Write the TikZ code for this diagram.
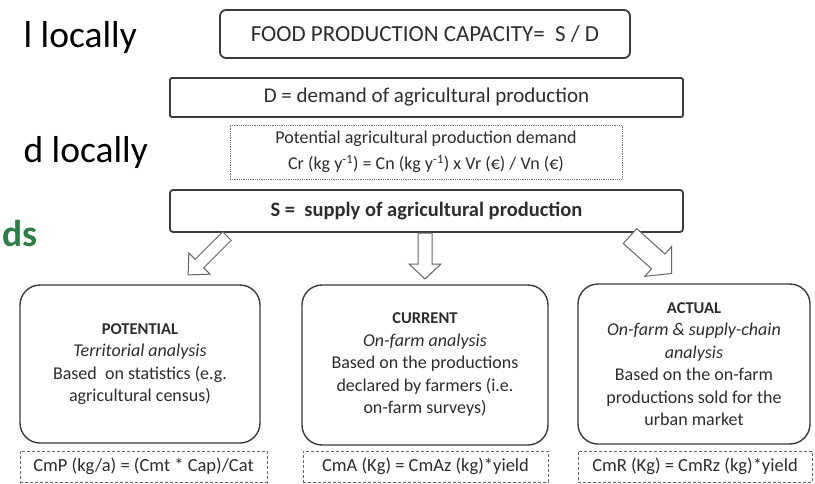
\documentclass[tikz,border=0pt]{standalone}
\usepackage{fontspec}
\setmainfont{Carlito}
\usetikzlibrary{positioning}

\definecolor{slidegreen}{RGB}{46,125,70}
\definecolor{linegray}{RGB}{60,60,60}
\definecolor{textgray}{RGB}{45,45,45}

\tikzset{
  topbox/.style={draw=linegray, line width=1.8pt, rounded corners=4pt, text=textgray, inner sep=0pt},
  notebox/.style={draw=black!55, densely dotted, line width=0.8pt, text=textgray, align=center, inner sep=0pt},
  kindbox/.style={draw=linegray, line width=1.4pt, rounded corners=20pt, text=textgray, align=center, inner sep=0pt,
    font=\fontsize{18}{22.5}\selectfont},
  formulabox/.style={draw=black!60, dash pattern=on 3pt off 2pt, line width=0.8pt, text=textgray, inner sep=0pt,
    font=\fontsize{18.5}{20}\selectfont},
  hollow/.style={draw=black!60, line width=1pt, fill=white, line join=miter},
  sidetext/.style={anchor=base east, inner sep=0pt, font=\fontsize{37.5}{42}\selectfont}
}
\newcommand{\kindtitle}[1]{{\bfseries\fontsize{16.5}{22.5}\selectfont #1}}
% block arrow: tail, angle, length, half shaft, half head, head length
\newcommand{\hollowarrow}[6]{%
  \begin{scope}[shift={#1}, rotate=#2]
    \draw[hollow] (0,-#4) -- ({#3-#6},-#4) -- ({#3-#6},-#5) -- (#3,0)
      -- ({#3-#6},#5) -- ({#3-#6},#4) -- (0,#4) -- cycle;
  \end{scope}}

\begin{document}
\begin{tikzpicture}[x=1pt, y=-1pt]
  \fill[white] (0,0) rectangle (815,483);
  \useasboundingbox (0,0) rectangle (815,483);

  % left margin text of the slide
  \node[sidetext] (line1) at (137,47) {l locally};
  \node[sidetext] (line2) at (148,162) {d locally};
  \node[sidetext, text=slidegreen, font=\bfseries\fontsize{37.5}{42}\selectfont] (line3) at (38,246) {ds};

  % top part
  \node[topbox, rounded corners=6pt, minimum width=410pt, minimum height=48pt,
    font=\fontsize{23}{26}\selectfont] (capacity) at (425,34) {FOOD PRODUCTION CAPACITY=~~S / D};
  \node[topbox, rounded corners=2pt, minimum width=513pt, minimum height=39pt,
    font=\fontsize{21}{24}\selectfont] (demand) at (426.5,97.5) {D = demand of agricultural production};
  \node[notebox, minimum width=392pt, minimum height=54pt,
    font=\fontsize{18}{26}\selectfont] (demandcalc) at (426,152)
    {Potential agricultural production demand\\
     Cr (kg y\textsuperscript{-1}) = Cn (kg y\textsuperscript{-1}) x Vr (€) / Vn (€)};
  \node[topbox, rounded corners=3pt, minimum width=513pt, minimum height=42pt,
    font=\bfseries\fontsize{20.5}{24}\selectfont] (supply) at (426.5,211) {S =~~supply of agricultural production};

  % three kinds of analysis
  \node[kindbox, minimum width=240pt, minimum height=158pt] (potential) at (140,364)
    {\kindtitle{POTENTIAL}\\ \textit{Territorial analysis}\\ Based~~on statistics (e.g.\\ agricultural census)};
  \node[kindbox, minimum width=246pt, minimum height=160pt] (current) at (425,365)
    {\kindtitle{CURRENT}\\ \textit{On-farm analysis}\\ Based on the productions\\ declared by farmers (i.e.\\ on-farm surveys)};
  \node[kindbox, minimum width=232pt, minimum height=160pt] (actual) at (694,364)
    {\kindtitle{ACTUAL}\\ \textit{On-farm \& supply-chain}\\ \textit{analysis}\\ Based on the on-farm\\ productions sold for the\\ urban market};

  \node[formulabox, minimum width=247pt, minimum height=31pt] (potentialcalc) at (143.5,466.5)
    {CmP (kg/a) = (Cmt * Cap)/Cat};
  \node[formulabox, minimum width=245pt, minimum height=31pt] (currentcalc) at (425.5,466.5)
    {CmA (Kg) = CmAz (kg)*yield};
  \node[formulabox, minimum width=234pt, minimum height=31pt] (actualcalc) at (695,466.5)
    {CmR (Kg) = CmRz (kg)*yield};

  % hollow arrows from S
  \coordinate (tailP) at (227,236);
  \coordinate (tailC) at (425,233);
  \coordinate (tailA) at (630,236);
  \hollowarrow{(tailP)}{-135}{55}{6}{15}{16}
  \hollowarrow{(tailC)}{-90}{46}{7}{16}{15}
  \hollowarrow{(tailA)}{-42}{56}{10}{20}{18}
\end{tikzpicture}
\end{document}
